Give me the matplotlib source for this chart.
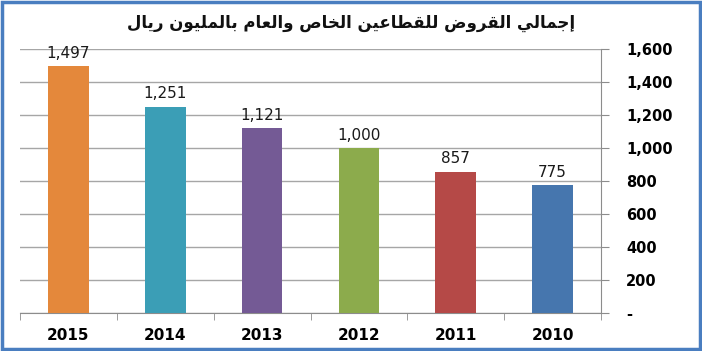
import matplotlib
matplotlib.use("Agg")
import matplotlib.pyplot as plt
from matplotlib.patches import Rectangle
from matplotlib.ticker import FuncFormatter

# data
years = ["2015", "2014", "2013", "2012", "2011", "2010"]
loans = [1497, 1251, 1121, 1000, 857, 775]
bar_colors = ["#E4883B", "#3B9EB6", "#745A95", "#8CAB4C", "#B54947", "#4676AE"]
title_text = "إجمالي القروض للقطاعين الخاص والعام بالمليون ريال"

# simple arabic shaping (matplotlib has no bidi/joining)
# letter -> (isolated, final, initial, medial); None = does not join forward
FORMS = {
    "ا": (0xFE8D, 0xFE8E, None, None),
    "إ": (0xFE87, 0xFE88, None, None),
    "ب": (0xFE8F, 0xFE90, 0xFE91, 0xFE92),
    "ج": (0xFE9D, 0xFE9E, 0xFE9F, 0xFEA0),
    "خ": (0xFEA5, 0xFEA6, 0xFEA7, 0xFEA8),
    "ر": (0xFEAD, 0xFEAE, None, None),
    "و": (0xFEED, 0xFEEE, None, None),
    "ص": (0xFEB9, 0xFEBA, 0xFEBB, 0xFEBC),
    "ض": (0xFEBD, 0xFEBE, 0xFEBF, 0xFEC0),
    "ط": (0xFEC1, 0xFEC2, 0xFEC3, 0xFEC4),
    "ع": (0xFEC9, 0xFECA, 0xFECB, 0xFECC),
    "ق": (0xFED5, 0xFED6, 0xFED7, 0xFED8),
    "ل": (0xFEDD, 0xFEDE, 0xFEDF, 0xFEE0),
    "م": (0xFEE1, 0xFEE2, 0xFEE3, 0xFEE4),
    "ن": (0xFEE5, 0xFEE6, 0xFEE7, 0xFEE8),
    "ي": (0xFEF1, 0xFEF2, 0xFEF3, 0xFEF4),
}


def shape_arabic(text):
    out = []
    for i, ch in enumerate(text):
        if ch not in FORMS:
            out.append(ch)
            continue
        prev = text[i - 1] if i > 0 else " "
        nxt = text[i + 1] if i + 1 < len(text) else " "
        join_prev = prev in FORMS and FORMS[prev][2] is not None
        join_next = nxt in FORMS and FORMS[ch][2] is not None
        iso, fin, ini, med = FORMS[ch]
        if join_prev and join_next:
            code = med
        elif join_prev:
            code = fin
        elif join_next:
            code = ini
        else:
            code = iso
        out.append(chr(code))
    return "".join(out)[::-1]


fig = plt.figure(figsize=(7.02, 3.51), dpi=100)
ax = fig.add_axes([20 / 702, (351 - 312.7) / 351, 581 / 702, 263.4 / 351])

x = list(range(len(years)))
bars = ax.bar(x, loans, width=0.42, color=bar_colors, zorder=3)

for xi, v in zip(x, loans):
    ax.annotate(f"{v:,}", (xi, v), xytext=(0, 4), textcoords="offset points",
                ha="center", va="bottom", fontsize=11, color="#1a1a1a")

ax.set_xlim(-0.5, len(years) - 0.5)
ax.set_ylim(0, 1600)
ax.set_yticks(range(0, 1601, 200))
ax.yaxis.set_major_formatter(FuncFormatter(lambda v, p: "-" if v == 0 else f"{int(v):,}"))
ax.yaxis.tick_right()
ax.grid(axis="y", color="#A6A6A6", linewidth=1, zorder=0)

ax.set_xticks(x)
ax.set_xticklabels(years, fontsize=11, fontweight="bold")
ax.set_xticks([i - 0.5 for i in range(len(years) + 1)], minor=True)
ax.tick_params(axis="x", which="major", length=0, pad=11)
ax.tick_params(axis="x", which="minor", length=5, color="#8C8C8C")
ax.tick_params(axis="y", length=6, color="#8C8C8C", labelsize=10.5, pad=12)
for lbl in ax.get_yticklabels():
    lbl.set_fontweight("bold")

for side in ["top", "left"]:
    ax.spines[side].set_visible(False)
ax.spines["right"].set_color("#8C8C8C")
ax.spines["bottom"].set_color("#8C8C8C")

fig.text(0.50, 1 - 23 / 351, shape_arabic(title_text), ha="center", va="center",
         fontsize=12, fontweight="bold", color="#111111")

# blue frame round the picture
fig.patches.append(Rectangle((2 / 702, 2 / 351), 698 / 702, 347 / 351, transform=fig.transFigure,
                             fill=False, edgecolor="#4A7EC0", linewidth=2.5))

fig.savefig("out.png", dpi=100, facecolor="white")
